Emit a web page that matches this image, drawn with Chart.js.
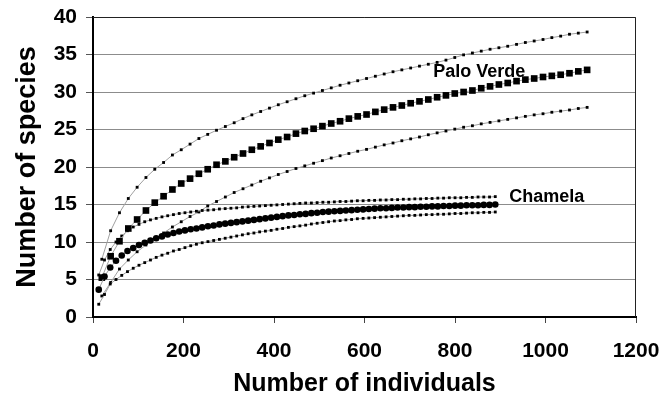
<!DOCTYPE html>
<html>
<head>
<meta charset="utf-8">
<script src="https://cdn.jsdelivr.net/npm/chart.js@4/dist/chart.umd.min.js"></script>
<style>
  html, body { margin: 0; padding: 0; background: #fff; }
  #wrap { width: 663px; height: 400px; position: relative; }
</style>
</head>
<body>
<div id="wrap"><canvas id="c" width="663" height="400"></canvas></div>
<script>
// ---- Data ----
const pvN = [19.5, 39, 58.5, 78, 97.5, 117, 136.5, 156, 175.5, 195, 214.5, 234, 253.5, 273, 292.5, 312, 331.5, 351, 370.5, 390,
  409.5, 429, 448.5, 468, 487.5, 507, 526.5, 546, 565.5, 585, 604.5, 624, 643.5, 663, 682.5, 702, 721.5, 741, 760.5, 780,
  799.5, 819, 838.5, 858, 877.5, 897, 916.5, 936, 955.5, 975, 994.5, 1014, 1033.5, 1053, 1072.5, 1092];
const pvMean = [5.25, 8.1, 10.1, 11.8, 13.0, 14.2, 15.25, 16.1, 17.0, 17.8, 18.45, 19.1, 19.7, 20.3, 20.75, 21.3, 21.8, 22.3, 22.75, 23.2,
  23.65, 24.0, 24.45, 24.8, 25.1, 25.45, 25.8, 26.1, 26.45, 26.75, 27.0, 27.35, 27.65, 27.95, 28.2, 28.5, 28.75, 29.0, 29.3, 29.55,
  29.8, 30.0, 30.2, 30.5, 30.75, 31.0, 31.2, 31.45, 31.65, 31.8, 32.0, 32.15, 32.3, 32.5, 32.75, 32.95];
const pvUpper = [7.7, 11.5, 13.9, 15.8, 17.3, 18.6, 19.7, 20.6, 21.6, 22.3, 23.05, 23.8, 24.35, 24.9, 25.4, 25.9, 26.45, 26.95, 27.4, 27.85,
  28.3, 28.7, 29.1, 29.5, 29.85, 30.2, 30.55, 30.9, 31.2, 31.5, 31.8, 32.1, 32.4, 32.7, 32.95, 33.2, 33.45, 33.7, 33.95, 34.25,
  34.6, 34.95, 35.2, 35.45, 35.7, 35.9, 36.1, 36.35, 36.6, 36.8, 37.0, 37.25, 37.45, 37.7, 37.85, 38.0];
const pvLower = [2.8, 4.6, 6.4, 7.6, 8.7, 9.6, 10.4, 11.2, 12.0, 12.7, 13.4, 14.0, 14.8, 15.4, 16.0, 16.6, 17.1, 17.6, 18.1, 18.55,
  19.0, 19.4, 19.8, 20.15, 20.5, 20.85, 21.2, 21.5, 21.8, 22.1, 22.35, 22.65, 22.95, 23.2, 23.5, 23.75, 24.0, 24.3, 24.55, 24.8,
  25.05, 25.3, 25.5, 25.75, 25.95, 26.15, 26.35, 26.55, 26.75, 26.95, 27.1, 27.3, 27.45, 27.6, 27.8, 27.95];

const chN = [12.7, 25.4, 38.1, 50.8, 63.5, 76.2, 88.9, 101.6, 114.3, 127, 139.7, 152.4, 165.1, 177.8, 190.5, 203.2, 215.9, 228.6, 241.3, 254,
  266.7, 279.4, 292.1, 304.8, 317.5, 330.2, 342.9, 355.6, 368.3, 381, 393.7, 406.4, 419.1, 431.8, 444.5, 457.2, 469.9, 482.6, 495.3, 508,
  520.7, 533.4, 546.1, 558.8, 571.5, 584.2, 596.9, 609.6, 622.3, 635, 647.7, 660.4, 673.1, 685.8, 698.5, 711.2, 723.9, 736.6, 749.3, 762,
  774.7, 787.4, 800.1, 812.8, 825.5, 838.2, 850.9, 863.6, 876.3, 889];
const chMean = [3.65, 5.4, 6.6, 7.5, 8.2, 8.8, 9.2, 9.6, 9.9, 10.2, 10.5, 10.75, 11.0, 11.2, 11.4, 11.55, 11.7, 11.8, 11.95, 12.1,
  12.2, 12.35, 12.45, 12.55, 12.65, 12.75, 12.85, 12.95, 13.05, 13.15, 13.25, 13.35, 13.45, 13.55, 13.6, 13.7, 13.75, 13.85, 13.9, 14.0,
  14.05, 14.1, 14.15, 14.2, 14.25, 14.3, 14.35, 14.4, 14.45, 14.5, 14.5, 14.55, 14.6, 14.6, 14.65, 14.65, 14.7, 14.7, 14.75, 14.75,
  14.8, 14.8, 14.85, 14.85, 14.9, 14.9, 14.9, 14.95, 14.95, 15.0];
const chUpper = [5.6, 7.6, 9.0, 10.0, 10.8, 11.5, 12.0, 12.35, 12.7, 12.95, 13.15, 13.35, 13.5, 13.65, 13.8, 13.9, 14.0, 14.1, 14.2, 14.25,
  14.3, 14.4, 14.45, 14.5, 14.55, 14.65, 14.7, 14.75, 14.8, 14.85, 14.9, 14.95, 15.0, 15.05, 15.1, 15.15, 15.2, 15.2, 15.25, 15.3,
  15.3, 15.35, 15.4, 15.4, 15.45, 15.5, 15.5, 15.55, 15.55, 15.6, 15.6, 15.65, 15.65, 15.7, 15.7, 15.75, 15.75, 15.8, 15.8, 15.85,
  15.85, 15.9, 15.9, 15.9, 15.95, 15.95, 16.0, 16.0, 16.0, 16.05];
const chLower = [1.7, 3.0, 4.4, 5.0, 5.55, 6.05, 6.5, 6.9, 7.25, 7.6, 7.95, 8.25, 8.5, 8.8, 9.0, 9.25, 9.5, 9.7, 9.9, 10.05,
  10.2, 10.35, 10.5, 10.65, 10.8, 10.95, 11.1, 11.2, 11.35, 11.45, 11.55, 11.7, 11.8, 11.95, 12.05, 12.15, 12.25, 12.4, 12.5, 12.6,
  12.7, 12.8, 12.85, 12.95, 13.0, 13.1, 13.15, 13.2, 13.25, 13.3, 13.35, 13.4, 13.45, 13.5, 13.55, 13.55, 13.6, 13.65, 13.65, 13.7,
  13.7, 13.75, 13.8, 13.8, 13.85, 13.9, 13.9, 13.95, 13.95, 14.0];

const xTicks = [0, 200, 400, 600, 800, 1000, 1200];
const yTicks = [0, 5, 10, 15, 20, 25, 30, 35, 40];
const xTitle = 'Number of individuals';
const yTitle = 'Number of species';
const seriesLabels = [
  { text: 'Palo Verde', x: 752, y: 32.0 },
  { text: 'Chamela', x: 920, y: 15.3 }
];

const pts = (xs, ys) => xs.map((x, i) => ({ x: x, y: ys[i] }));
const FONT = "'Liberation Sans', Arial, sans-serif";
const lineCol = '#a0a0a0';

function ds(label, xs, ys, style, radius) {
  return {
    label: label,
    data: pts(xs, ys),
    showLine: true,
    borderColor: lineCol,
    borderWidth: 1,
    pointStyle: style,
    pointRadius: radius,
    pointBackgroundColor: '#000',
    pointBorderColor: '#000',
    pointBorderWidth: 0,
    tension: 0
  };
}

const frameAndLabels = {
  id: 'frameAndLabels',
  afterDatasetsDraw(chart) {
    const { ctx, chartArea: a, scales } = chart;
    ctx.save();
    ctx.strokeStyle = '#222';
    ctx.lineWidth = 1;
    ctx.beginPath();
    ctx.moveTo(a.left, a.top + 0.5);
    ctx.lineTo(a.right - 0.5, a.top + 0.5);
    ctx.lineTo(a.right - 0.5, a.bottom);
    ctx.stroke();
    ctx.fillStyle = '#000';
    ctx.font = "bold 18px " + FONT;
    ctx.textBaseline = 'alphabetic';
    ctx.textAlign = 'left';
    seriesLabels.forEach(l => {
      ctx.fillText(l.text, scales.x.getPixelForValue(l.x), scales.y.getPixelForValue(l.y));
    });
    ctx.restore();
  }
};

new Chart(document.getElementById('c'), {
  type: 'scatter',
  data: {
    datasets: [
      ds('Chamela', chN, chMean, 'circle', 3.3),
      ds('Palo Verde', pvN, pvMean, 'rect', 4.7),
      ds('Chamela upper', chN, chUpper, 'rect', 2),
      ds('Chamela lower', chN, chLower, 'rect', 2),
      ds('Palo Verde upper', pvN, pvUpper, 'rect', 2),
      ds('Palo Verde lower', pvN, pvLower, 'rect', 2)
    ]
  },
  options: {
    responsive: false,
    animation: false,
    events: [],
    layout: { padding: { top: 17, right: 27, left: 0, bottom: 0 } },
    plugins: { legend: { display: false }, tooltip: { enabled: false } },
    scales: {
      x: {
        type: 'linear',
        min: 0, max: 1200,
        afterBuildTicks: s => { s.ticks = xTicks.map(v => ({ value: v })); },
        afterFit: s => { s.height = 83; s.paddingLeft = 0; s.paddingRight = 0; },
        ticks: { color: '#000', font: { family: FONT, weight: 'bold', size: 21 }, padding: 16, maxRotation: 0,
                 callback: v => String(v) },
        grid: { drawOnChartArea: false, drawTicks: true, tickLength: 6, tickColor: '#444', tickWidth: 1 },
        border: { color: '#000', width: 2 },
        title: { display: true, text: xTitle, color: '#000', font: { family: FONT, weight: 'bold', size: 25 }, padding: { top: 0, bottom: 1 } }
      },
      y: {
        type: 'linear',
        min: 0, max: 40,
        afterBuildTicks: s => { s.ticks = yTicks.map(v => ({ value: v })); },
        afterFit: s => { s.width = 93; s.paddingTop = 0; s.paddingBottom = 0; },
        ticks: { color: '#000', font: { family: FONT, weight: 'bold', size: 21 }, padding: 9, callback: v => String(v) },
        grid: { color: '#8c8c8c', lineWidth: 1, drawTicks: true, tickLength: 7, tickColor: '#555' },
        border: { color: '#000', width: 2 },
        title: { display: true, text: yTitle, color: '#000', font: { family: FONT, weight: 'bold', size: 27 }, padding: { top: 11, bottom: 0 } }
      }
    }
  },
  plugins: [frameAndLabels]
});
</script>
</body>
</html>
